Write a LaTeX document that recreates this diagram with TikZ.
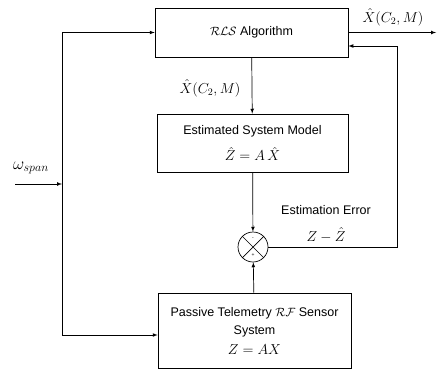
\documentclass[tikz,border=0pt]{standalone}
\usepackage{fontspec}
\setmainfont{Liberation Sans}
\usetikzlibrary{arrows}

\tikzstyle{block}=[rectangle,
                        draw=black,
                        fill=white,
                        align=center,
                        inner sep=2pt]
\tikzstyle{summer}=[circle,
                        draw=black,
                        minimum size=30pt,
                        inner sep=0pt]
\tikzstyle{lbl}=[inner sep=1pt]

\begin{document}
\begin{tikzpicture}[>=latex,x=1pt,y=-1pt,line width=0.7pt,
                    font=\fontsize{12.5}{14}\selectfont]
  \useasboundingbox (0,0) rectangle (438,372);
  % The blocks are placed at fixed coordinates:
  \node (rls) [block,minimum width=193pt,minimum height=49pt] at (251.5,32.5)
        {$\mathcal{RLS}$ Algorithm};
  \node (est) [block,minimum width=191pt,minimum height=58pt] at (252.5,143)
        {Estimated System Model\\[9pt] {\Large $\hat{Z} = A\,\hat{X}$}};
  \node (sens) [block,minimum width=193pt,minimum height=75pt] at (254.5,330.5)
        {Passive Telemetry $\mathcal{RF}$ Sensor\\[4pt] System\\[6pt] {\Large $Z = AX$}};
  \node (sum) [summer] at (253,247) {};
  \draw (sum.north east) -- (sum.south west)
        (sum.north west) -- (sum.south east);
  \node (minus) [lbl,font=\tiny] at (253,238.5) {-};
  \node (plus) [lbl,font=\tiny] at (253,255.5) {+};

  % Helper points for the connectors:
  \coordinate (in) at (15,184);
  \coordinate (jn) at (62,184);
  \coordinate (bl) at (62,335);
  \coordinate (out) at (436,32.5);
  \coordinate (fb) at (397,46);

  % The labels:
  \node (wspan) [lbl] at (31,168) {\LARGE $\omega_{span}$};
  \node (xout) [lbl] at (393,17) {\Large $\hat{X}(C_2,M)$};
  \node (xmid) [lbl] at (210,88) {\Large $\hat{X}(C_2,M)$};
  \node (err) [lbl] at (326,210) {Estimation Error};
  \node (diff) [lbl] at (326,235) {\Large $Z - \hat{Z}$};

  % The diagram elements are now connected through arrows:
  \path[->]
        (in) edge (jn)
        (rls) edge (est)
        (est) edge (sum)
        (sens) edge (sum)
        (rls.east) edge (out)
;
  \draw[->] (jn) |- (rls.west);
  \draw[->] (jn) -- (bl) -- (bl -| sens.west);
  \draw[->] (sum.east) -| (fb) -- (fb -| rls.east);
\end{tikzpicture}
\end{document}
